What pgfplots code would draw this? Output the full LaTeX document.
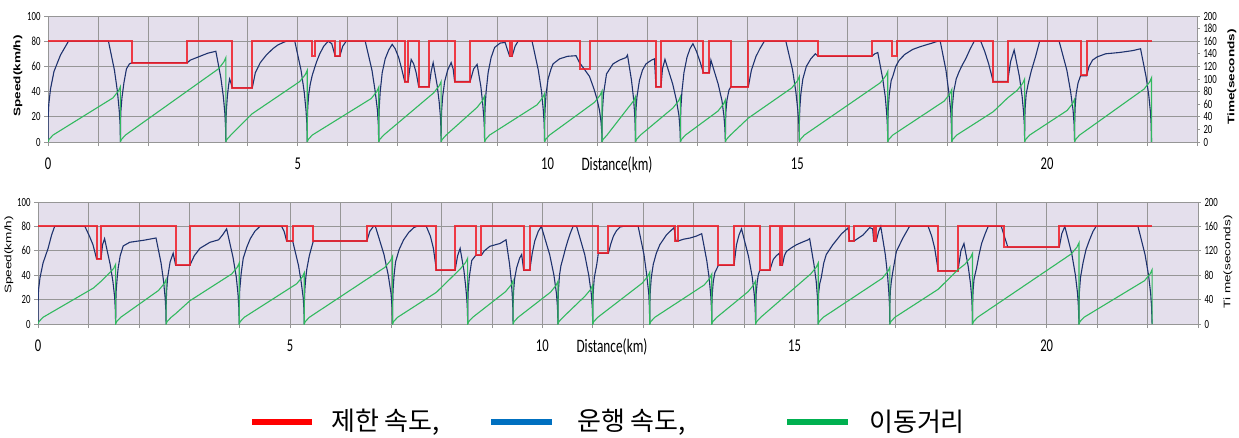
\documentclass[border=0pt]{standalone}
\usepackage{fontspec}
\usepackage{pgfplots}
\pgfplotsset{compat=1.18}
\setmainfont{Carlito}
\newfontfamily\tickfont[FakeStretch=0.7]{Carlito}
\newfontfamily\lblfont[FakeStretch=1.43]{Liberation Sans}
\newfontfamily\krfont{Noto Sans CJK KR}
\definecolor{bgc}{RGB}{228,223,236}
\definecolor{limc}{RGB}{240,30,40}
\definecolor{spdc}{RGB}{30,50,110}
\definecolor{timc}{RGB}{50,185,95}
\definecolor{gridc}{RGB}{150,150,150}
\definecolor{legred}{RGB}{255,0,0}
\definecolor{legblue}{RGB}{0,112,192}
\definecolor{leggreen}{RGB}{0,176,80}
\pgfplotsset{
 panel/.style={scale only axis, xmin=0, xmax=23, ymin=0, ymax=100,
   axis x line*=bottom, axis y line*=left,
   axis line style={gridc, line width=0.8pt},
   axis background/.style={fill=bgc},
   xtick={0,...,23},
   xticklabels={0,{},{},{},{},5,{},{},{},{},10,{},{},{},{},15,{},{},{},{},20,{},{},{}},
   ytick={0,20,...,100}, yticklabels={0,20,40,60,80,100},
   grid=major, grid style={gridc, line width=0.7pt},
   tick align=outside, major tick length=4pt, tick style={gridc, line width=0.7pt},
   xticklabel style={font=\fontsize{18}{18}\tickfont, yshift=-8pt},
   yticklabel style={font=\fontsize{12.5}{12.5}\tickfont},
 },
 tpanel/.style={scale only axis, xmin=0, xmax=23, ymin=0, ymax=200,
   axis x line=none, axis y line*=right,
   axis line style={gridc, line width=0.8pt},
   tick align=outside, major tick length=3pt, tick style={gridc, line width=0.7pt},
   yticklabel style={font=\fontsize{12.5}{12.5}\tickfont},
 },
 lim/.style={limc, line width=2pt, opacity=0.85},
 spd/.style={spdc, line width=1.1pt},
 tim/.style={timc, line width=1.1pt},
}
\begin{document}
\begin{tikzpicture}
\path[use as bounding box] (0,0) rectangle (1239pt,437pt);
% ---------------- TOP PANEL ----------------
\begin{axis}[panel, at={(48pt,295pt)}, anchor=south west, width=1149pt, height=126pt]
\addplot[spd] coordinates {
(0,0)(0.004,20)(0.016,30)(0.05,42)(0.12,56)(0.25,69)(0.41,80)(1.21,80)(1.33,57)(1.39,40)(1.426,25)(1.443,14)(1.45,0)
(1.452,16)(1.46,25)(1.48,35)(1.52,47)(1.57,58)(1.63,62)(1.69,63)(2.79,63)(2.85,65)(3.04,68)(3.2,70.5)(3.36,72)(3.46,51)(3.51,36)(3.54,23)(3.554,12)(3.56,0)
(3.562,15)(3.57,25)(3.59,36)(3.615,45)(3.635,50)(3.67,46)(3.69,43)(4.09,43)(4.15,55)(4.25,63)(4.37,69)(4.5,74)(4.6,77)(4.71,79)(4.77,80)(4.94,80)(5.065,57)(5.128,40)(5.165,25)(5.183,14)(5.19,0)
(5.192,18)(5.2,28)(5.22,38)(5.25,46)(5.29,53)(5.33,58)(5.38,64)(5.44,70)(5.52,76)(5.61,80)(5.68,78)(5.75,68)(5.84,68)(5.9,76)(5.97,80)(6.35,80)(6.485,57)(6.55,40)(6.595,25)(6.612,14)(6.62,0)
(6.622,17)(6.63,27)(6.65,40)(6.69,55)(6.75,66)(6.82,73)(6.89,77.5)(6.95,74)(7.02,67)(7.08,58)(7.14,48)(7.21,48)(7.24,58)(7.27,65.5)(7.32,62)(7.37,55)(7.42,44)(7.63,44)(7.67,56)(7.71,63)(7.79,45)(7.83,32)(7.856,20)(7.865,11)(7.87,0)
(7.872,16)(7.88,25)(7.9,36)(7.94,48)(8.0,57)(8.07,63)(8.11,58)(8.14,48)(8.45,48)(8.52,58)(8.59,61.6)(8.665,44)(8.7,31)(8.725,19)(8.735,11)(8.74,0)
(8.742,18)(8.75,28)(8.77,40)(8.81,55)(8.87,67)(8.94,75)(9.05,78.5)(9.15,79)(9.24,68)(9.29,68)(9.35,76)(9.41,80)(9.69,80)(9.815,57)(9.88,40)(9.915,25)(9.933,14)(9.94,0)
(9.942,17)(9.95,26)(9.97,38)(10.01,50)(10.07,58)(10.11,62)(10.24,66)(10.4,68)(10.57,68.5)(10.64,63)(10.75,57)(10.84,52)(10.93,42)(10.99,34)(11.04,25)(11.07,16)(11.085,8)(11.09,0)
(11.092,16)(11.1,26)(11.12,38)(11.18,54)(11.31,62)(11.44,65)(11.57,67)(11.6,69)(11.68,49)(11.72,35)(11.744,22)(11.755,12)(11.76,0)
(11.762,16)(11.77,26)(11.79,36)(11.84,49)(11.9,57)(11.97,62)(12.08,65)(12.14,66)(12.17,44)(12.27,44)(12.3,58)(12.35,65.6)(12.505,46)(12.58,33)(12.63,21)(12.65,11)(12.66,0)
(12.662,18)(12.67,28)(12.69,40)(12.73,55)(12.79,67)(12.85,74)(12.91,78)(12.98,72)(13.05,64)(13.12,55)(13.24,55)(13.27,65)(13.415,46)(13.49,33)(13.53,21)(13.55,11)(13.56,0)
(13.562,15)(13.57,24)(13.59,33)(13.63,41)(13.67,44)(14.02,44)(14.08,57)(14.17,67.7)(14.25,74)(14.34,80)(14.77,80)(14.905,57)(14.97,40)(15.01,25)(15.03,14)(15.04,0)
(15.042,17)(15.05,27)(15.07,38)(15.11,50)(15.18,60)(15.27,66)(15.36,70)(15.42,68)(16.49,68)(16.55,70)(16.61,71)(16.71,50)(16.76,36)(16.79,22)(16.804,12)(16.81,0)
(16.812,17)(16.82,27)(16.84,38)(16.88,49)(16.91,52)(16.97,60)(17.04,65)(17.15,69.5)(17.31,73.5)(17.45,75.5)(17.57,77)(17.7,78.5)(17.81,80)(17.86,80)(17.975,57)(18.03,40)(18.07,25)(18.083,14)(18.09,0)
(18.092,17)(18.1,27)(18.13,40)(18.18,50)(18.24,56)(18.3,61)(18.37,66)(18.45,73)(18.54,80)(18.67,80)(18.75,72)(18.83,62)(18.92,48)(19.21,48)(19.27,64)(19.34,73)(19.445,52)(19.5,36)(19.53,23)(19.545,13)(19.55,0)
(19.552,17)(19.56,27)(19.58,38)(19.62,46)(19.68,56)(19.77,68)(19.85,80)(20.24,80)(20.395,57)(20.47,40)(20.52,25)(20.54,14)(20.55,0)
(20.552,17)(20.56,27)(20.58,38)(20.62,47)(20.67,52.6)(20.79,52.6)(20.84,60)(20.91,65)(21.0,67.5)(21.17,70)(21.44,71)(21.71,72.5)(21.87,74)(21.98,52)(22.035,37)(22.07,23)(22.083,13)(22.09,0)
};
\addplot[lim] coordinates {
(0,80)(1.69,80)(1.69,63)(2.79,63)(2.79,80)(3.69,80)(3.69,43)(4.09,43)(4.09,80)(5.29,80)(5.29,68)(5.35,68)(5.35,80)(5.75,80)(5.75,68)(5.84,68)(5.84,80)(7.14,80)(7.14,48)(7.21,48)(7.21,80)(7.42,80)(7.42,44)(7.63,44)(7.63,80)(8.14,80)(8.14,48)(8.45,48)(8.45,80)(9.24,80)(9.24,68)(9.29,68)(9.29,80)(10.64,80)(10.64,58)(10.84,58)(10.84,80)(12.17,80)(12.17,44)(12.27,44)(12.27,80)(13.12,80)(13.12,55)(13.24,55)(13.24,80)(13.67,80)(13.67,44)(14.02,44)(14.02,80)(15.41,80)(15.41,68)(16.49,68)(16.49,80)(16.89,80)(16.89,68)(16.99,68)(16.99,80)(18.92,80)(18.92,48)(19.21,48)(19.21,80)(20.67,80)(20.67,53)(20.79,53)(20.79,80)(22.09,80)
};
\end{axis}
\begin{axis}[tpanel, at={(48pt,295pt)}, anchor=south west, width=1149pt, height=126pt,
  ytick={0,20,...,200}, yticklabels={0,20,40,60,80,100,120,140,160,180,200}]
\addplot[tim] coordinates {
(0,0)(0.02,4)(0.1,11)(1.3,70)(1.41,81)(1.45,88)(1.45,0)
(1.47,4)(1.55,11)(3.41,116)(3.52,127)(3.56,134)(3.56,0)
(3.58,4)(3.66,11)(4.09,45)(5.04,96)(5.15,107)(5.19,114)(5.19,0)
(5.21,4)(5.29,11)(6.47,69)(6.58,80)(6.62,87)(6.62,0)
(6.64,4)(6.72,11)(7.72,78)(7.83,89)(7.87,96)(7.87,0)
(7.89,4)(7.97,11)(8.59,55)(8.70,66)(8.74,73)(8.74,0)
(8.76,4)(8.84,11)(9.79,59)(9.90,70)(9.94,77)(9.94,0)
(9.96,4)(10.04,11)(10.94,63)(11.05,74)(11.09,81)(11.09,0)
(11.11,4)(11.19,11)(11.61,54)(11.72,65)(11.76,72)(11.76,0)
(11.78,4)(11.86,11)(12.51,54)(12.62,65)(12.66,72)(12.66,0)
(12.68,4)(12.76,11)(13.41,49)(13.52,60)(13.56,67)(13.56,0)
(13.58,4)(13.66,11)(14.02,38)(14.89,86)(15.0,97)(15.04,104)(15.04,0)
(15.06,4)(15.14,11)(16.66,94)(16.77,105)(16.81,112)(16.81,0)
(16.83,4)(16.91,11)(17.94,65)(18.05,76)(18.09,83)(18.09,0)
(18.11,4)(18.19,11)(18.92,48)(19.21,70)(19.4,82)(19.51,93)(19.55,100)(19.55,0)
(19.57,4)(19.65,11)(20.40,50)(20.51,61)(20.55,68)(20.55,0)
(20.57,4)(20.65,11)(21.94,84)(22.05,95)(22.09,102)(22.09,0)
};
\end{axis}
% ---------------- BOTTOM PANEL ----------------
\begin{axis}[panel, at={(38pt,113pt)}, anchor=south west, width=1160pt, height=122pt]
\addplot[spd] coordinates {
(0,0)(0.003,18)(0.01,28)(0.04,38)(0.1,50)(0.2,62)(0.27,73)(0.33,80)(0.93,80)(1.02,72)(1.09,65)(1.16,53.6)(1.25,53.6)(1.28,65)(1.32,70)(1.43,49)(1.485,35)(1.52,22)(1.533,12)(1.54,0)
(1.542,17)(1.55,27)(1.57,38)(1.59,46)(1.63,56)(1.69,64)(1.82,67)(2.09,68.6)(2.34,70.5)(2.44,50)(2.49,35)(2.52,22)(2.534,12)(2.54,0)
(2.542,17)(2.55,27)(2.57,38)(2.62,51)(2.68,58)(2.73,48)(3.01,48)(3.1,56)(3.21,62)(3.41,67)(3.58,69)(3.66,73)(3.74,78)(3.865,55)(3.93,39)(3.965,25)(3.983,13)(3.99,0)
(3.992,18)(4.0,28)(4.03,42)(4.07,54)(4.14,63)(4.21,70)(4.3,76)(4.4,80)(4.83,80)(4.88,76)(4.93,68)(5.05,68)(5.165,48)(5.22,34)(5.26,21)(5.273,12)(5.28,0)
(5.282,18)(5.29,28)(5.31,38)(5.33,45)(5.38,56)(5.43,63.7)(5.46,68)(6.52,68)(6.58,76)(6.65,80)(6.69,80)(6.86,57)(6.945,40)(7.0,25)(7.02,14)(7.03,0)
(7.032,18)(7.04,28)(7.06,40)(7.09,51)(7.16,61)(7.25,69)(7.35,75)(7.45,79)(7.51,80)(7.70,80)(7.78,72)(7.84,62)(7.90,44)(8.27,44)(8.32,56)(8.37,62)(8.445,44)(8.48,31)(8.505,19)(8.515,11)(8.52,0)
(8.522,17)(8.53,27)(8.55,38)(8.6,52)(8.68,56.3)(8.79,56.3)(8.85,60)(8.96,63.7)(9.16,66)(9.28,69)(9.35,49)(9.385,35)(9.406,22)(9.416,12)(9.42,0)
(9.422,17)(9.43,27)(9.45,37)(9.49,46)(9.55,54)(9.59,57)(9.63,44)(9.75,44)(9.8,58)(9.85,68)(9.92,76)(9.98,80)(10.145,57)(10.23,40)(10.28,25)(10.30,14)(10.31,0)
(10.312,18)(10.32,28)(10.34,40)(10.37,48)(10.41,54)(10.46,62)(10.51,69)(10.56,75)(10.61,80)(10.68,80)(10.84,57)(10.92,40)(10.97,25)(10.99,14)(11.0,0)
(11.002,17)(11.01,27)(11.03,38)(11.08,49)(11.11,58)(11.31,58)(11.36,66)(11.41,72)(11.47,76.5)(11.54,79.5)(11.6,80)(11.9,80)(12.015,57)(12.07,40)(12.11,25)(12.123,14)(12.13,0)
(12.132,17)(12.14,27)(12.16,38)(12.2,49)(12.26,58)(12.33,65)(12.46,73)(12.61,79)(12.65,68)(12.69,68)(12.8,69.5)(12.93,70.5)(13.05,72)(13.16,74)(13.26,52)(13.31,37)(13.34,23)(13.354,13)(13.36,0)
(13.362,16)(13.37,25)(13.39,35)(13.42,42)(13.49,48)(13.80,48)(13.85,65)(13.9,73)(13.95,78)(14.09,55)(14.16,39)(14.20,25)(14.22,13)(14.23,0)
(14.232,16)(14.24,25)(14.26,34)(14.28,40)(14.31,44)(14.51,44)(14.58,53)(14.64,56)(14.70,58)(14.72,48)(14.76,48)(14.8,56)(14.84,59.5)(14.94,62.5)(15.04,65)(15.15,67)(15.27,69)(15.3,70)(15.385,49)(15.43,35)(15.455,22)(15.465,12)(15.47,0)
(15.472,16)(15.48,26)(15.5,33)(15.53,38)(15.58,50)(15.63,57)(15.76,65)(15.93,73.8)(16.06,78.7)(16.08,74)(16.09,68)(16.18,68)(16.27,70.5)(16.36,73)(16.49,79)(16.55,78)(16.57,68)(16.62,68)(16.67,76)(16.71,80)(16.80,57)(16.845,40)(16.872,25)(16.885,14)(16.89,0)
(16.892,17)(16.9,27)(16.92,35)(16.95,43)(17.02,59.5)(17.15,70.5)(17.28,80)(17.65,80)(17.72,72)(17.78,62)(17.85,43.5)(18.24,43.5)(18.3,60)(18.36,66)(18.445,47)(18.49,33)(18.515,21)(18.525,11)(18.53,0)
(18.532,17)(18.54,27)(18.56,37)(18.61,46)(18.66,57)(18.71,66)(18.78,74)(18.84,80)(19.1,80)(19.16,72)(19.23,63)(20.25,63)(20.3,74)(20.36,80)(20.50,57)(20.57,40)(20.612,25)(20.63,14)(20.64,0)
(20.642,17)(20.65,27)(20.67,38)(20.72,50)(20.78,61)(20.85,69)(20.92,76)(20.98,80)(21.81,80)(21.95,57)(22.02,40)(22.062,25)(22.08,14)(22.09,0)
};
\addplot[lim] coordinates {
(0,80)(1.16,80)(1.16,53.6)(1.25,53.6)(1.25,80)(2.73,80)(2.73,48)(3.01,48)(3.01,80)(4.93,80)(4.93,68)(5.05,68)(5.05,80)(5.45,80)(5.45,68)(6.52,68)(6.52,80)(7.90,80)(7.90,44)(8.27,44)(8.27,80)(8.68,80)(8.68,56.3)(8.79,56.3)(8.79,80)(9.63,80)(9.63,44)(9.75,44)(9.75,80)(11.11,80)(11.11,58)(11.31,58)(11.31,80)(12.63,80)(12.63,68)(12.69,68)(12.69,80)(13.49,80)(13.49,48)(13.80,48)(13.80,80)(14.31,80)(14.31,44)(14.51,44)(14.51,80)(14.71,80)(14.71,48)(14.76,48)(14.76,80)(16.08,80)(16.08,68)(16.18,68)(16.18,80)(16.57,80)(16.57,68)(16.62,68)(16.62,80)(17.85,80)(17.85,43.5)(18.24,43.5)(18.24,80)(19.15,80)(19.15,63)(20.25,63)(20.25,80)(22.09,80)
};
\end{axis}
\begin{axis}[tpanel, at={(38pt,113pt)}, anchor=south west, width=1160pt, height=122pt,
  ytick={0,40,...,200}, yticklabels={0,40,80,120,160,200}]
\addplot[tim] coordinates {
(0,0)(0.02,4)(0.1,11)(1.1,59)(1.25,70)(1.42,84)(1.50,91)(1.54,98)(1.54,0)
(1.56,4)(1.64,11)(2.39,55)(2.50,66)(2.54,73)(2.54,0)
(2.56,4)(2.64,11)(2.73,17)(3.01,38)(3.84,82)(3.95,93)(3.99,100)(3.99,0)
(4.01,4)(4.09,11)(5.13,66)(5.24,77)(5.28,84)(5.28,0)
(5.30,4)(5.38,11)(6.88,93)(6.99,104)(7.03,111)(7.03,0)
(7.05,4)(7.13,11)(7.90,52)(8.27,82)(8.37,90)(8.48,101)(8.52,108)(8.52,0)
(8.54,4)(8.62,11)(9.27,53)(9.38,64)(9.42,71)(9.42,0)
(9.44,4)(9.52,11)(10.16,52)(10.27,63)(10.31,70)(10.31,0)
(10.33,4)(10.41,11)(10.85,46)(10.96,57)(11.0,64)(11.0,0)
(11.02,4)(11.10,11)(11.98,67)(12.09,78)(12.13,85)(12.13,0)
(12.15,4)(12.23,11)(13.21,64)(13.32,75)(13.36,82)(13.36,0)
(13.38,4)(13.46,11)(14.08,53)(14.19,64)(14.23,71)(14.23,0)
(14.25,4)(14.33,11)(15.32,82)(15.43,93)(15.47,100)(15.47,0)
(15.49,4)(15.57,11)(16.74,75)(16.85,86)(16.89,93)(16.89,0)
(16.91,4)(16.99,11)(17.85,57)(18.24,89)(18.38,98)(18.49,109)(18.53,116)(18.53,0)
(18.55,4)(18.63,11)(20.49,115)(20.60,126)(20.64,133)(20.64,0)
(20.66,4)(20.74,11)(21.94,71)(22.05,82)(22.09,89)(22.09,0)
};
\end{axis}
% ---------------- labels ----------------
\node[rotate=90, font=\fontsize{9.5}{9.5}\lblfont\bfseries] at (18pt,361pt) {Speed(km/h)};
\node[rotate=90, font=\fontsize{9.5}{9.5}\lblfont\bfseries] at (1232pt,360pt) {Time(seconds)};
\node[rotate=90, font=\fontsize{9.5}{9.5}\lblfont] at (9pt,182pt) {Speed(km/h)};
\node[rotate=90, font=\fontsize{9.5}{9.5}\lblfont] at (1228pt,175pt) {Ti me(seconds)};
\node[font=\fontsize{19}{19}\tickfont] at (617pt,272pt) {Distance(km)};
\node[font=\fontsize{19}{19}\tickfont] at (612pt,90pt) {Distance(km)};
% ---------------- legend ----------------
\draw[legred, line width=6pt] (252pt,15pt) -- (312pt,15pt);
\node[anchor=west, inner sep=0pt, font=\fontsize{26}{26}\krfont] at (331pt,15pt) {제한 속도,};
\draw[legblue, line width=6pt] (491pt,15pt) -- (552pt,15pt);
\node[anchor=west, inner sep=0pt, font=\fontsize{26}{26}\krfont] at (577pt,15pt) {운행 속도,};
\draw[leggreen, line width=6pt] (787pt,15pt) -- (848pt,15pt);
\node[anchor=west, inner sep=0pt, font=\fontsize{26}{26}\krfont] at (869pt,15pt) {이동거리};
\end{tikzpicture}
\end{document}
